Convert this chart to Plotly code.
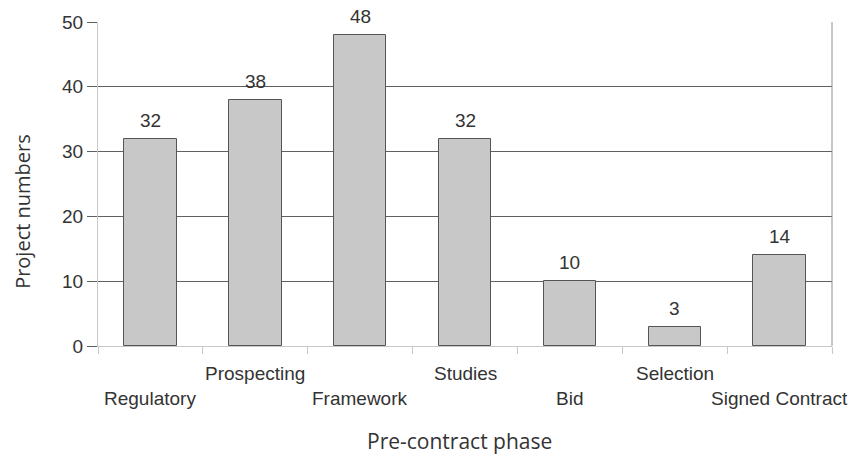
import plotly.graph_objects as go

# Pre-contract phases and project counts
phases = ["Regulatory", "Prospecting", "Framework", "Studies", "Bid", "Selection", "Signed Contract"]
projects = [32, 38, 48, 32, 10, 3, 14]
y_ticks = [0, 10, 20, 30, 40, 50]

positions = list(range(len(phases)))
boundaries = [p - 0.5 for p in positions] + [positions[-1] + 0.5]

label_font = dict(family="Liberation Sans, Arial, sans-serif", size=19, color="#333333")
title_font = dict(family="Open Sans, sans-serif", size=20, color="#333333")

fig = go.Figure()
fig.add_trace(go.Bar(
    x=positions,
    y=projects,
    width=0.5,
    marker=dict(color="#c8c8c8", line=dict(color="#555555", width=1)),
    hoverinfo="skip",
))

# Value labels above each bar
for i, v in enumerate(projects):
    fig.add_annotation(
        x=i, xref="x", y=v, yref="y",
        text=str(v), showarrow=False,
        yanchor="bottom", xanchor="center", yshift=6,
        font=label_font,
    )

# Category names, alternating between two rows below the axis
for i, name in enumerate(phases):
    fig.add_annotation(
        x=i, xref="x", y=0, yref="paper",
        text=name, showarrow=False,
        yanchor="middle", xanchor="center",
        yshift=-52 if i % 2 == 0 else -27,
        font=label_font,
    )

# Axis titles
fig.add_annotation(
    x=0.5, xref="paper", y=0, yref="paper",
    text="Pre-contract phase", showarrow=False,
    yanchor="middle", xanchor="center", yshift=-95, xshift=-6,
    font=dict(title_font, size=21),
)
fig.add_annotation(
    x=0, xref="paper", y=0.414, yref="paper",
    text="Project numbers", showarrow=False, textangle=-90,
    yanchor="middle", xanchor="center", xshift=-75,
    font=title_font,
)

fig.update_layout(
    width=854, height=454,
    margin=dict(l=98, r=22, t=22, b=108),
    paper_bgcolor="white", plot_bgcolor="white",
    showlegend=False,
    bargap=0,
    xaxis=dict(
        range=[-0.5, len(phases) - 0.5],
        tickmode="array", tickvals=boundaries, showticklabels=False,
        ticks="outside", ticklen=7, tickcolor="#c8c8c8", tickwidth=1,
        showgrid=False, zeroline=False,
        showline=True, linecolor="#c8c8c8", linewidth=1,
        mirror=False,
    ),
    yaxis=dict(
        range=[0, 50],
        tickmode="array", tickvals=y_ticks,
        ticks="outside", ticklen=10, tickcolor="#606060", tickwidth=1,
        tickfont=label_font,
        showgrid=True, gridcolor="#606060", gridwidth=1,
        zeroline=False,
        showline=True, linecolor="#c8c8c8", linewidth=1,
    ),
)

# right-hand frame edge
fig.add_shape(type="line", xref="paper", yref="paper", x0=1, x1=1, y0=0, y1=1,
              line=dict(color="#909090", width=1))

fig.write_html("out.html")
